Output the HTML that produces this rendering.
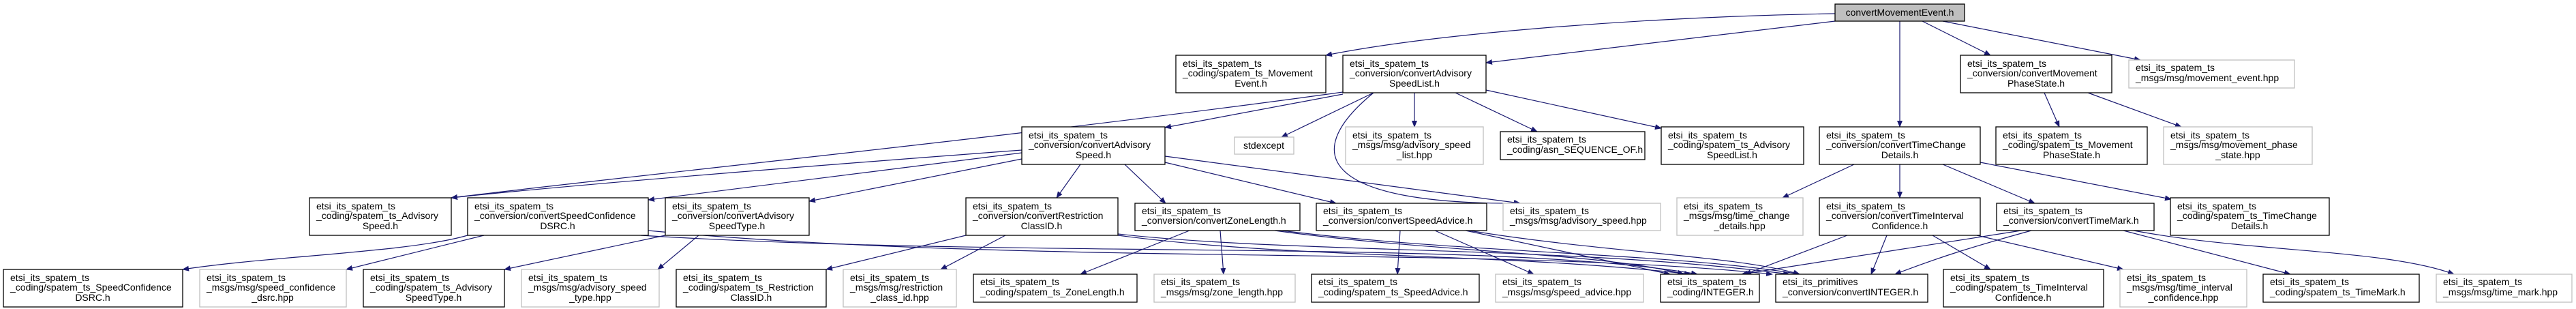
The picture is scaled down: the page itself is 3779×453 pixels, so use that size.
<!DOCTYPE html>
<html><head><meta charset="utf-8"><style>
html,body{margin:0;padding:0;background:#fff;}
svg{display:block}
text{font-family:"Liberation Sans",sans-serif;font-size:14px;fill:#000}
.n rect{fill:#fff;stroke:#000;stroke-width:1.3}
.g rect{fill:#fff;stroke:#bfbfbf;stroke-width:1.3}
.e{stroke:#191970;stroke-width:1.2;fill:none;marker-end:url(#a)}
</style></head><body>
<svg width="3779" height="453" viewBox="0 0 3779 453" xmlns="http://www.w3.org/2000/svg">
<defs><marker id="a" markerWidth="10" markerHeight="8" refX="9" refY="4" orient="auto" markerUnits="userSpaceOnUse"><path d="M0,0 L10,4 L0,8 z" fill="#191970"/></marker></defs>

<!-- edges -->
<path class="e" d="M2692,20 C2400,25 2100,50 1945,81"/>
<path class="e" d="M2692,31 L2180,92"/>
<path class="e" d="M2787,31 L2787,186"/>
<path class="e" d="M2820,31 L2920,81"/>
<path class="e" d="M2850,31 L3140,88"/>
<path class="e" d="M1970,135 C1500,200 900,260 662,290"/>
<path class="e" d="M1970,138 L1709,187"/>
<path class="e" d="M2015,136 L1880,201"/>
<path class="e" d="M2075,136 L2075,186"/>
<path class="e" d="M2135,136 L2255,193"/>
<path class="e" d="M2180,132 L2437,188"/>
<path class="e" d="M2015,136 C1900,230 1950,300 2230,298"/>
<path class="e" d="M1499,220 C1100,250 800,275 662,290"/>
<path class="e" d="M1499,224 L951,293"/>
<path class="e" d="M1499,233 L1187,295"/>
<path class="e" d="M1585,241 L1550,290"/>
<path class="e" d="M1650,241 L1710,298"/>
<path class="e" d="M1709,238 L1960,298"/>
<path class="e" d="M1709,229 L2230,298"/>
<path class="e" d="M686,345 C600,370 400,375 268,395"/>
<path class="e" d="M710,345 L508,395"/>
<path class="e" d="M951,338 C1500,390 2200,360 2600,402"/>
<path class="e" d="M940,345 C1500,380 2200,350 2490,402"/>
<path class="e" d="M976,345 L740,395"/>
<path class="e" d="M1025,345 L965,395"/>
<path class="e" d="M1417,345 L1212,395"/>
<path class="e" d="M1475,345 L1380,395"/>
<path class="e" d="M1640,345 C1900,380 2200,370 2480,402"/>
<path class="e" d="M1640,343 C1900,372 2300,360 2625,402"/>
<path class="e" d="M1745,338 L1585,402"/>
<path class="e" d="M1790,338 L1795,402"/>
<path class="e" d="M1870,338 C2100,370 2350,370 2470,402"/>
<path class="e" d="M1880,338 C2150,372 2450,370 2640,402"/>
<path class="e" d="M2054,338 L2050,402"/>
<path class="e" d="M2105,338 L2250,402"/>
<path class="e" d="M2150,338 L2450,402"/>
<path class="e" d="M2155,338 C2350,370 2550,375 2640,402"/>
<path class="e" d="M2720,241 L2615,290"/>
<path class="e" d="M2787,241 L2787,290"/>
<path class="e" d="M2850,241 L2985,298"/>
<path class="e" d="M2905,238 L3185,292"/>
<path class="e" d="M2710,345 L2560,402"/>
<path class="e" d="M2768,345 L2745,402"/>
<path class="e" d="M2835,345 L2920,395"/>
<path class="e" d="M2900,345 L3115,395"/>
<path class="e" d="M2965,338 L2555,402"/>
<path class="e" d="M2980,338 C2900,360 2850,375 2780,402"/>
<path class="e" d="M3115,338 L3360,402"/>
<path class="e" d="M3130,338 C3300,370 3500,365 3600,402"/>
<path class="e" d="M2999,136 L3021,186"/>
<path class="e" d="M3063,136 L3200,186"/>

<!-- nodes -->
<g><rect x="2692" y="6" width="190" height="25" fill="#bfbfbf" stroke="#000" stroke-width="1.3"/><text x="2787" y="23" text-anchor="middle">convertMovementEvent.h</text></g>

<g class="n"><rect x="1725" y="81" width="220" height="55"/><text x="1735" y="98">etsi_its_spatem_ts</text><text x="1735" y="112">_coding/spatem_ts_Movement</text><text x="1835" y="127" text-anchor="middle">Event.h</text></g>
<g class="n"><rect x="1970" y="81" width="210" height="55"/><text x="1980" y="98">etsi_its_spatem_ts</text><text x="1980" y="112">_conversion/convertAdvisory</text><text x="2075" y="127" text-anchor="middle">SpeedList.h</text></g>
<g class="n"><rect x="2876" y="81" width="222" height="55"/><text x="2886" y="98">etsi_its_spatem_ts</text><text x="2886" y="112">_conversion/convertMovement</text><text x="2987" y="127" text-anchor="middle">PhaseState.h</text></g>
<g class="g"><rect x="3123" y="88" width="243" height="41"/><text x="3133" y="104">etsi_its_spatem_ts</text><text x="3133" y="119">_msgs/msg/movement_event.hpp</text></g>

<g class="n"><rect x="1499" y="186" width="210" height="55"/><text x="1509" y="203">etsi_its_spatem_ts</text><text x="1509" y="217">_conversion/convertAdvisory</text><text x="1604" y="232" text-anchor="middle">Speed.h</text></g>
<g class="g"><rect x="1811" y="201" width="87" height="25"/><text x="1854" y="218" text-anchor="middle">stdexcept</text></g>
<g class="g"><rect x="1974" y="186" width="202" height="55"/><text x="1984" y="203">etsi_its_spatem_ts</text><text x="1984" y="217">_msgs/msg/advisory_speed</text><text x="2075" y="232" text-anchor="middle">_list.hpp</text></g>
<g class="n"><rect x="2201" y="193" width="212" height="41"/><text x="2211" y="209">etsi_its_spatem_ts</text><text x="2211" y="224">_coding/asn_SEQUENCE_OF.h</text></g>
<g class="n"><rect x="2437" y="186" width="209" height="55"/><text x="2447" y="203">etsi_its_spatem_ts</text><text x="2447" y="217">_coding/spatem_ts_Advisory</text><text x="2541" y="232" text-anchor="middle">SpeedList.h</text></g>
<g class="n"><rect x="2669" y="186" width="236" height="55"/><text x="2679" y="203">etsi_its_spatem_ts</text><text x="2679" y="217">_conversion/convertTimeChange</text><text x="2787" y="232" text-anchor="middle">Details.h</text></g>
<g class="n"><rect x="2928" y="186" width="222" height="55"/><text x="2938" y="203">etsi_its_spatem_ts</text><text x="2938" y="217">_coding/spatem_ts_Movement</text><text x="3039" y="232" text-anchor="middle">PhaseState.h</text></g>
<g class="g"><rect x="3174" y="186" width="218" height="55"/><text x="3184" y="203">etsi_its_spatem_ts</text><text x="3184" y="217">_msgs/msg/movement_phase</text><text x="3283" y="232" text-anchor="middle">_state.hpp</text></g>

<g class="n"><rect x="454" y="290" width="208" height="55"/><text x="464" y="307">etsi_its_spatem_ts</text><text x="464" y="321">_coding/spatem_ts_Advisory</text><text x="558" y="336" text-anchor="middle">Speed.h</text></g>
<g class="n"><rect x="686" y="290" width="265" height="55"/><text x="696" y="307">etsi_its_spatem_ts</text><text x="696" y="321">_conversion/convertSpeedConfidence</text><text x="818" y="336" text-anchor="middle">DSRC.h</text></g>
<g class="n"><rect x="976" y="290" width="211" height="55"/><text x="986" y="307">etsi_its_spatem_ts</text><text x="986" y="321">_conversion/convertAdvisory</text><text x="1081" y="336" text-anchor="middle">SpeedType.h</text></g>
<g class="n"><rect x="1417" y="290" width="223" height="55"/><text x="1427" y="307">etsi_its_spatem_ts</text><text x="1427" y="321">_conversion/convertRestriction</text><text x="1528" y="336" text-anchor="middle">ClassID.h</text></g>
<g class="n"><rect x="1665" y="298" width="242" height="40"/><text x="1675" y="314">etsi_its_spatem_ts</text><text x="1675" y="328">_conversion/convertZoneLength.h</text></g>
<g class="n"><rect x="1931" y="298" width="250" height="40"/><text x="1941" y="314">etsi_its_spatem_ts</text><text x="1941" y="328">_conversion/convertSpeedAdvice.h</text></g>
<g class="g"><rect x="2205" y="298" width="231" height="40"/><text x="2215" y="314">etsi_its_spatem_ts</text><text x="2215" y="328">_msgs/msg/advisory_speed.hpp</text></g>
<g class="g"><rect x="2460" y="290" width="185" height="55"/><text x="2470" y="307">etsi_its_spatem_ts</text><text x="2470" y="321">_msgs/msg/time_change</text><text x="2552" y="336" text-anchor="middle">_details.hpp</text></g>
<g class="n"><rect x="2669" y="290" width="236" height="55"/><text x="2679" y="307">etsi_its_spatem_ts</text><text x="2679" y="321">_conversion/convertTimeInterval</text><text x="2787" y="336" text-anchor="middle">Confidence.h</text></g>
<g class="n"><rect x="2929" y="298" width="231" height="40"/><text x="2939" y="314">etsi_its_spatem_ts</text><text x="2939" y="328">_conversion/convertTimeMark.h</text></g>
<g class="n"><rect x="3184" y="290" width="233" height="55"/><text x="3194" y="307">etsi_its_spatem_ts</text><text x="3194" y="321">_coding/spatem_ts_TimeChange</text><text x="3300" y="336" text-anchor="middle">Details.h</text></g>

<g class="n"><rect x="5" y="395" width="263" height="55"/><text x="15" y="412">etsi_its_spatem_ts</text><text x="15" y="426">_coding/spatem_ts_SpeedConfidence</text><text x="136" y="441" text-anchor="middle">DSRC.h</text></g>
<g class="g"><rect x="293" y="395" width="215" height="55"/><text x="303" y="412">etsi_its_spatem_ts</text><text x="303" y="426">_msgs/msg/speed_confidence</text><text x="400" y="441" text-anchor="middle">_dsrc.hpp</text></g>
<g class="n"><rect x="533" y="395" width="207" height="55"/><text x="543" y="412">etsi_its_spatem_ts</text><text x="543" y="426">_coding/spatem_ts_Advisory</text><text x="636" y="441" text-anchor="middle">SpeedType.h</text></g>
<g class="g"><rect x="765" y="395" width="202" height="55"/><text x="775" y="412">etsi_its_spatem_ts</text><text x="775" y="426">_msgs/msg/advisory_speed</text><text x="866" y="441" text-anchor="middle">_type.hpp</text></g>
<g class="n"><rect x="992" y="395" width="220" height="55"/><text x="1002" y="412">etsi_its_spatem_ts</text><text x="1002" y="426">_coding/spatem_ts_Restriction</text><text x="1102" y="441" text-anchor="middle">ClassID.h</text></g>
<g class="g"><rect x="1237" y="395" width="166" height="55"/><text x="1247" y="412">etsi_its_spatem_ts</text><text x="1247" y="426">_msgs/msg/restriction</text><text x="1320" y="441" text-anchor="middle">_class_id.hpp</text></g>
<g class="n"><rect x="1428" y="402" width="240" height="41"/><text x="1438" y="418">etsi_its_spatem_ts</text><text x="1438" y="433">_coding/spatem_ts_ZoneLength.h</text></g>
<g class="g"><rect x="1693" y="402" width="207" height="41"/><text x="1703" y="418">etsi_its_spatem_ts</text><text x="1703" y="433">_msgs/msg/zone_length.hpp</text></g>
<g class="n"><rect x="1924" y="402" width="246" height="41"/><text x="1934" y="418">etsi_its_spatem_ts</text><text x="1934" y="433">_coding/spatem_ts_SpeedAdvice.h</text></g>
<g class="g"><rect x="2194" y="402" width="217" height="41"/><text x="2204" y="418">etsi_its_spatem_ts</text><text x="2204" y="433">_msgs/msg/speed_advice.hpp</text></g>
<g class="n"><rect x="2436" y="402" width="145" height="41"/><text x="2446" y="418">etsi_its_spatem_ts</text><text x="2446" y="433">_coding/INTEGER.h</text></g>
<g class="n"><rect x="2605" y="402" width="223" height="41"/><text x="2615" y="418">etsi_its_primitives</text><text x="2615" y="433">_conversion/convertINTEGER.h</text></g>
<g class="n"><rect x="2851" y="395" width="235" height="55"/><text x="2861" y="412">etsi_its_spatem_ts</text><text x="2861" y="426">_coding/spatem_ts_TimeInterval</text><text x="2968" y="441" text-anchor="middle">Confidence.h</text></g>
<g class="g"><rect x="3110" y="395" width="186" height="55"/><text x="3120" y="412">etsi_its_spatem_ts</text><text x="3120" y="426">_msgs/msg/time_interval</text><text x="3203" y="441" text-anchor="middle">_confidence.hpp</text></g>
<g class="n"><rect x="3320" y="402" width="229" height="41"/><text x="3330" y="418">etsi_its_spatem_ts</text><text x="3330" y="433">_coding/spatem_ts_TimeMark.h</text></g>
<g class="g"><rect x="3574" y="402" width="199" height="41"/><text x="3584" y="418">etsi_its_spatem_ts</text><text x="3584" y="433">_msgs/msg/time_mark.hpp</text></g>
</svg>
</body></html>
